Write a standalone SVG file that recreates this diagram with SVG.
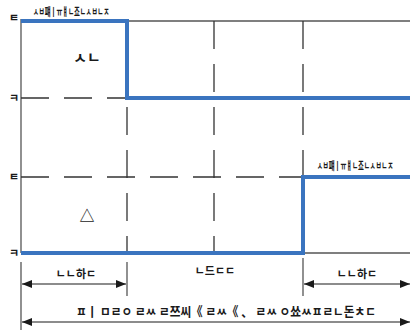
<svg xmlns="http://www.w3.org/2000/svg" width="410" height="332" viewBox="0 0 410 332">
<defs>
<marker id="ah" viewBox="0 0 10 8" refX="10" refY="4" markerWidth="10" markerHeight="8" markerUnits="userSpaceOnUse" orient="auto-start-reverse">
<path d="M0,0 L10,4 L0,8 z" fill="#1a1a1a"/>
</marker>
<style>
.t{font-family:"Noto Sans CJK KR","Liberation Sans",sans-serif;fill:#1a1a1a;font-weight:bold;}
.ax{stroke:#555;stroke-width:1.3;fill:none;}
.dash{stroke:#333;stroke-width:1.3;stroke-dasharray:28 15;fill:none;}
.sig{stroke:#3a74bf;stroke-width:4;fill:none;stroke-linejoin:miter;}
.dim{stroke:#1a1a1a;stroke-width:1.2;fill:none;}
</style>
</defs>
<rect width="410" height="332" fill="#fff"/>
<g id="connectors">
<line class="ax" x1="21" y1="19" x2="21" y2="253"/>
<line class="ax" x1="127" y1="21" x2="410" y2="21"/>
<line class="ax" x1="303" y1="253" x2="410" y2="253"/>
<line class="dash" x1="21" y1="98" x2="127" y2="98"/>
<line class="dash" x1="21" y1="177" x2="303" y2="177"/>
<line class="dash" x1="127" y1="21" x2="127" y2="253"/>
<line class="dash" x1="214" y1="21" x2="214" y2="253"/>
<line class="dash" x1="303" y1="21" x2="303" y2="177"/>
<polyline class="sig" points="21,21 127,21 127,98 410,98"/>
<polyline class="sig" points="21,253 303,253 303,177 410,177"/>
<line class="ax" x1="21" y1="262" x2="21" y2="330"/>
<line class="ax" x1="127" y1="262" x2="127" y2="296"/>
<line class="ax" x1="303" y1="258" x2="303" y2="296"/>
<line class="dim" x1="22" y1="284" x2="126" y2="284" marker-start="url(#ah)" marker-end="url(#ah)"/>
<line class="dim" x1="304" y1="284" x2="410" y2="284" marker-start="url(#ah)" marker-end="url(#ah)"/>
<line class="dim" x1="22" y1="322" x2="410" y2="322" marker-start="url(#ah)" marker-end="url(#ah)"/>
</g>
<g id="axis-labels">
<text class="t" x="14" y="22" font-size="11" text-anchor="middle">ㅌ</text>
<text class="t" x="14" y="102" font-size="11" text-anchor="middle">ㅋ</text>
<text class="t" x="14" y="181" font-size="11" text-anchor="middle">ㅌ</text>
<text class="t" x="14" y="257" font-size="11" text-anchor="middle">ㅋ</text>
</g>
<g id="signal1">
<text class="t" transform="translate(33,16) scale(0.58,1)" x="0" y="0" font-size="11">ㅅㅂ퍠ㅣㅠㅒㄴ죠ㄴㅅㅂㄴㅈ</text>
<text class="t" x="87" y="63" font-size="15" text-anchor="middle">ㅅㄴ</text>
</g>
<g id="signal2">
<text class="t" transform="translate(317,170) scale(0.58,1)" x="0" y="0" font-size="11">ㅅㅂ퍠ㅣㅠㅒㄴ죠ㄴㅅㅂㄴㅈ</text>
<text class="t" x="87" y="221" font-size="15" text-anchor="middle">△</text>
</g>
<g id="dimensions">
<text class="t" x="76" y="278" font-size="11" text-anchor="middle">ㄴㄴ하ㄷ</text>
<text class="t" x="215" y="275" font-size="11" text-anchor="middle">ㄴ드ㄷㄷ</text>
<text class="t" x="357" y="278" font-size="11" text-anchor="middle">ㄴㄴ하ㄷ</text>
<text class="t" x="76" y="316" font-size="13" textLength="300" lengthAdjust="spacingAndGlyphs">ㅍㅣ ㅁㄹㅇ ㄹㅆ ㄹ쯔씨《 ㄹㅆ《 、 ㄹㅆ ㅇ쑈ㅆㅍㄹㄴ돈ㅊㄷ</text>
</g>
</svg>
